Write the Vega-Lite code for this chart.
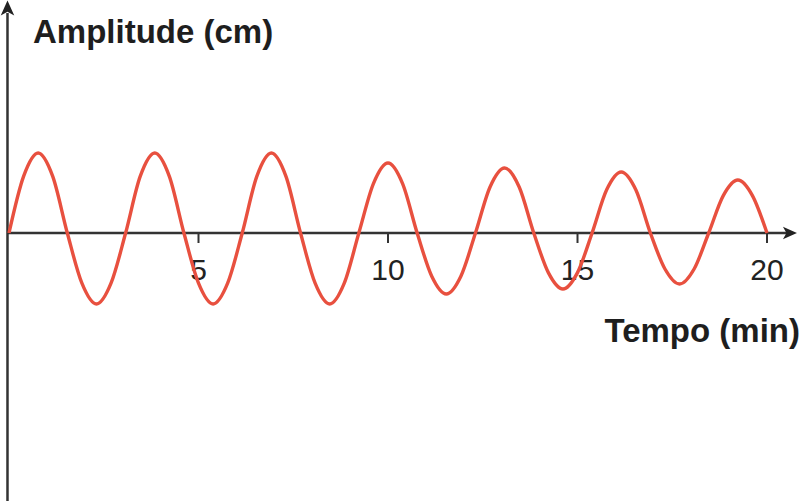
{
  "$schema": "https://vega.github.io/schema/vega-lite/v6.json",
  "width": 801,
  "height": 501,
  "autosize": {"type": "none"},
  "padding": 0,
  "background": "white",
  "config": {"view": {"stroke": null}},
  "datasets": {
    "wave": [
      {"t": 0, "amp": 0},
      {"t": 0.3846, "amp": 2.83}, {"t": 0.7692, "amp": 4.0}, {"t": 1.1538, "amp": 2.83}, {"t": 1.5385, "amp": 0},
      {"t": 1.9231, "amp": -2.51}, {"t": 2.3077, "amp": -3.55}, {"t": 2.6923, "amp": -2.51}, {"t": 3.0769, "amp": 0},
      {"t": 3.4615, "amp": 2.83}, {"t": 3.8462, "amp": 4.0}, {"t": 4.2308, "amp": 2.83}, {"t": 4.6154, "amp": 0},
      {"t": 5.0, "amp": -2.51}, {"t": 5.3846, "amp": -3.55}, {"t": 5.7692, "amp": -2.51}, {"t": 6.1538, "amp": 0},
      {"t": 6.5385, "amp": 2.83}, {"t": 6.9231, "amp": 4.0}, {"t": 7.3077, "amp": 2.83}, {"t": 7.6923, "amp": 0},
      {"t": 8.0769, "amp": -2.51}, {"t": 8.4615, "amp": -3.55}, {"t": 8.8462, "amp": -2.51}, {"t": 9.2308, "amp": 0},
      {"t": 9.6154, "amp": 2.47}, {"t": 10.0, "amp": 3.5}, {"t": 10.3846, "amp": 2.47}, {"t": 10.7692, "amp": 0},
      {"t": 11.1538, "amp": -2.16}, {"t": 11.5385, "amp": -3.05}, {"t": 11.9231, "amp": -2.16}, {"t": 12.3077, "amp": 0},
      {"t": 12.6923, "amp": 2.3}, {"t": 13.0769, "amp": 3.25}, {"t": 13.4615, "amp": 2.3}, {"t": 13.8462, "amp": 0},
      {"t": 14.2308, "amp": -1.98}, {"t": 14.6154, "amp": -2.8}, {"t": 15.0, "amp": -1.98}, {"t": 15.3846, "amp": 0},
      {"t": 15.7692, "amp": 2.16}, {"t": 16.1538, "amp": 3.05}, {"t": 16.5385, "amp": 2.16}, {"t": 16.9231, "amp": 0},
      {"t": 17.3077, "amp": -1.8}, {"t": 17.6923, "amp": -2.55}, {"t": 18.0769, "amp": -1.8}, {"t": 18.4615, "amp": 0},
      {"t": 18.8462, "amp": 1.87}, {"t": 19.2308, "amp": 2.65}, {"t": 19.6154, "amp": 1.87}, {"t": 20.0, "amp": 0}
    ],
    "ticks": [
      {"t": 5, "label": "5"}, {"t": 10, "label": "10"}, {"t": 15, "label": "15"}, {"t": 20, "label": "20"}
    ]
  },
  "layer": [
    {
      "data": {"values": [{"t": -0.04, "t2": 20.6, "amp": 0}]},
      "mark": {"type": "rule", "color": "#333333", "strokeWidth": 2.5},
      "encoding": {
        "x": {"field": "t", "type": "quantitative", "scale": {"domain": [-0.2375, 20.897], "nice": false, "zero": false}, "axis": null},
        "x2": {"field": "t2"},
        "y": {"field": "amp", "type": "quantitative", "scale": {"domain": [-13.4, 11.65], "nice": false, "zero": false}, "axis": null}
      }
    },
    {
      "data": {"values": [{"t": -0.04, "amp": -13.6, "amp2": 11.0}]},
      "mark": {"type": "rule", "color": "#333333", "strokeWidth": 2.5},
      "encoding": {
        "x": {"field": "t", "type": "quantitative", "axis": null},
        "y": {"field": "amp", "type": "quantitative", "axis": null},
        "y2": {"field": "amp2"}
      }
    },
    {
      "data": {"values": [{"t": 20.79, "amp": 0}]},
      "mark": {"type": "point", "shape": "M0,0L-2,-0.9L-1.5,0L-2,0.9Z", "filled": true, "color": "#222222", "opacity": 1, "size": 196, "strokeWidth": 0},
      "encoding": {
        "x": {"field": "t", "type": "quantitative", "axis": null},
        "y": {"field": "amp", "type": "quantitative", "axis": null}
      }
    },
    {
      "data": {"values": [{"t": -0.04, "amp": 11.62}]},
      "mark": {"type": "point", "shape": "M0,0L-0.9,2L0,1.5L0.9,2Z", "filled": true, "color": "#222222", "opacity": 1, "size": 225, "strokeWidth": 0},
      "encoding": {
        "x": {"field": "t", "type": "quantitative", "axis": null},
        "y": {"field": "amp", "type": "quantitative", "axis": null}
      }
    },
    {
      "data": {"name": "ticks"},
      "mark": {"type": "rule", "color": "#333333", "strokeWidth": 2},
      "encoding": {
        "x": {"field": "t", "type": "quantitative", "axis": null},
        "y": {"datum": 0, "type": "quantitative", "axis": null},
        "y2": {"datum": -0.5}
      }
    },
    {
      "data": {"name": "ticks"},
      "mark": {"type": "text", "font": "Liberation Sans", "fontSize": 30, "align": "center", "baseline": "alphabetic", "color": "#222222"},
      "encoding": {
        "x": {"field": "t", "type": "quantitative", "axis": null},
        "y": {"datum": -2.35, "type": "quantitative", "axis": null},
        "text": {"field": "label"}
      }
    },
    {
      "data": {"name": "wave"},
      "mark": {"type": "line", "color": "#e8503f", "strokeWidth": 3.4, "interpolate": "cardinal"},
      "encoding": {
        "x": {"field": "t", "type": "quantitative", "axis": null},
        "y": {"field": "amp", "type": "quantitative", "axis": null}
      }
    },
    {
      "data": {"values": [{"t": 0.633, "amp": 9.5, "label": "Amplitude (cm)"}]},
      "mark": {"type": "text", "font": "Liberation Sans", "fontWeight": "bold", "fontSize": 33, "align": "left", "baseline": "alphabetic", "color": "#1e1e1e"},
      "encoding": {
        "x": {"field": "t", "type": "quantitative", "axis": null},
        "y": {"field": "amp", "type": "quantitative", "axis": null},
        "text": {"field": "label"}
      }
    },
    {
      "data": {"values": [{"t": 20.87, "amp": -5.45, "label": "Tempo (min)"}]},
      "mark": {"type": "text", "font": "Liberation Sans", "fontWeight": "bold", "fontSize": 33, "align": "right", "baseline": "alphabetic", "color": "#1e1e1e"},
      "encoding": {
        "x": {"field": "t", "type": "quantitative", "axis": null},
        "y": {"field": "amp", "type": "quantitative", "axis": null},
        "text": {"field": "label"}
      }
    }
  ]
}
